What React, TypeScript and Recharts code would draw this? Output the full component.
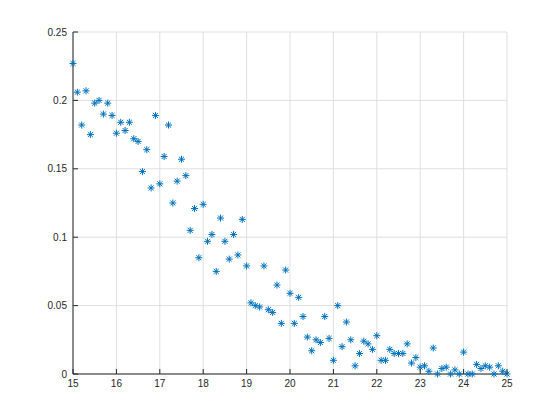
import { CartesianGrid, Scatter, ScatterChart, XAxis, YAxis } from "recharts";

const xValues = [
  15.0, 15.1, 15.2, 15.3, 15.4, 15.5, 15.6, 15.7, 15.8, 15.9,
  16.0, 16.1, 16.2, 16.3, 16.4, 16.5, 16.6, 16.7, 16.8, 16.9,
  17.0, 17.1, 17.2, 17.3, 17.4, 17.5, 17.6, 17.7, 17.8, 17.9,
  18.0, 18.1, 18.2, 18.3, 18.4, 18.5, 18.6, 18.7, 18.8, 18.9,
  19.0, 19.1, 19.2, 19.3, 19.4, 19.5, 19.6, 19.7, 19.8, 19.9,
  20.0, 20.1, 20.2, 20.3, 20.4, 20.5, 20.6, 20.7, 20.8, 20.9,
  21.0, 21.1, 21.2, 21.3, 21.4, 21.5, 21.6, 21.7, 21.8, 21.9,
  22.0, 22.1, 22.2, 22.3, 22.4, 22.5, 22.6, 22.7, 22.8, 22.9,
  23.0, 23.1, 23.2, 23.3, 23.4, 23.5, 23.6, 23.7, 23.8, 23.9,
  24.0, 24.1, 24.2, 24.3, 24.4, 24.5, 24.6, 24.7, 24.8, 24.9,
  25.0,
];

const yValues = [
  0.227, 0.206, 0.182, 0.207, 0.175, 0.198, 0.2, 0.19, 0.198, 0.189,
  0.176, 0.184, 0.178, 0.184, 0.172, 0.17, 0.148, 0.164, 0.136, 0.189,
  0.139, 0.159, 0.182, 0.125, 0.141, 0.157, 0.145, 0.105, 0.121, 0.085,
  0.124, 0.097, 0.102, 0.075, 0.114, 0.097, 0.084, 0.102, 0.087, 0.113,
  0.079, 0.052, 0.05, 0.049, 0.079, 0.047, 0.045, 0.065, 0.037, 0.076,
  0.059, 0.037, 0.056, 0.042, 0.027, 0.017, 0.025, 0.023, 0.042, 0.026,
  0.01, 0.05, 0.02, 0.038, 0.025, 0.006, 0.015, 0.024, 0.022, 0.018,
  0.028, 0.01, 0.01, 0.018, 0.015, 0.015, 0.015, 0.022, 0.008, 0.012,
  0.005, 0.006, 0.002, 0.019, 0.0, 0.004, 0.005, 0.0, 0.003, 0.0,
  0.016, 0.0, 0.0, 0.007, 0.004, 0.006, 0.005, 0.0, 0.006, 0.002,
  0.0,
];

const xTicks = [15, 16, 17, 18, 19, 20, 21, 22, 23, 24, 25];
const yTicks = [0, 0.05, 0.1, 0.15, 0.2, 0.25];

const data = xValues.map((x, i) => ({ x, y: yValues[i] }));

const axisColor = "#262626";
const markerColor = "#0072BD";
const font = "'Liberation Sans', Arial, sans-serif";

function formatY(v: number): string {
  return String(Number(v.toFixed(2)));
}

function Asterisk(props: any) {
  const { cx, cy } = props;
  if (cx == null || cy == null) return null;
  const r = 3.5;
  const d = r * 0.72;
  return (
    <g stroke={markerColor} strokeWidth={1}>
      <line x1={cx - r} y1={cy} x2={cx + r} y2={cy} />
      <line x1={cx} y1={cy - r} x2={cx} y2={cy + r} />
      <line x1={cx - d} y1={cy - d} x2={cx + d} y2={cy + d} />
      <line x1={cx - d} y1={cy + d} x2={cx + d} y2={cy - d} />
    </g>
  );
}

function BottomTick(props: any) {
  const { x, y, payload } = props;
  return (
    <g>
      <line x1={x} x2={x} y1={y} y2={y - 5} stroke={axisColor} />
      <text x={x} y={y + 13} textAnchor="middle" fontSize={10} fontFamily={font} fill={axisColor}>
        {payload.value}
      </text>
    </g>
  );
}

function TopTick(props: any) {
  const { x, y } = props;
  return <line x1={x} x2={x} y1={y} y2={y + 5} stroke={axisColor} />;
}

function LeftTick(props: any) {
  const { x, y, payload } = props;
  return (
    <g>
      <line x1={x} x2={x + 5} y1={y} y2={y} stroke={axisColor} />
      <text x={x - 6} y={y + 3.5} textAnchor="end" fontSize={10} fontFamily={font} fill={axisColor}>
        {formatY(payload.value)}
      </text>
    </g>
  );
}

function RightTick(props: any) {
  const { x, y } = props;
  return <line x1={x} x2={x - 5} y1={y} y2={y} stroke={axisColor} />;
}

export default function App() {
  return (
    <div style={{ position: "absolute", left: 0, top: 0, width: 560, height: 420, background: "#fff" }}>
      <ScatterChart width={560} height={420} margin={{ top: 32, right: 53, bottom: 26, left: 33 }}>
        <CartesianGrid stroke="#dfdfdf" />
        <XAxis
          dataKey="x"
          type="number"
          domain={[15, 25]}
          ticks={xTicks}
          height={20}
          tickSize={0}
          tickMargin={0}
          tickLine={false}
          axisLine={{ stroke: axisColor }}
          tick={<BottomTick />}
          interval={0}
        />
        <XAxis
          xAxisId="top"
          orientation="top"
          type="number"
          domain={[15, 25]}
          ticks={xTicks}
          height={0}
          tickSize={0}
          tickMargin={0}
          tickLine={false}
          axisLine={{ stroke: axisColor }}
          tick={<TopTick />}
          interval={0}
        />
        <YAxis
          dataKey="y"
          type="number"
          domain={[0, 0.25]}
          ticks={yTicks}
          width={40}
          tickSize={0}
          tickMargin={0}
          tickLine={false}
          axisLine={{ stroke: axisColor }}
          tick={<LeftTick />}
          interval={0}
        />
        <YAxis
          yAxisId="right"
          orientation="right"
          type="number"
          domain={[0, 0.25]}
          ticks={yTicks}
          width={0}
          tickSize={0}
          tickMargin={0}
          tickLine={false}
          axisLine={{ stroke: axisColor }}
          tick={<RightTick />}
          interval={0}
        />
        <Scatter data={data} shape={<Asterisk />} isAnimationActive={false} />
      </ScatterChart>
    </div>
  );
}
